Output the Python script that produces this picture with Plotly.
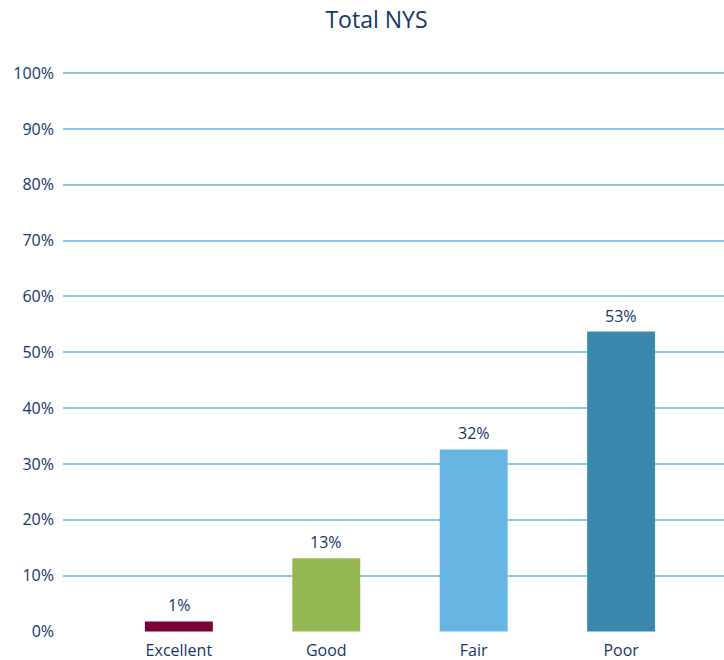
import plotly.graph_objects as go

categories = ["Excellent", "Good", "Fair", "Poor"]
values = [1.8, 13.1, 32.6, 53.7]
labels = ["1%", "13%", "32%", "53%"]
colors = ["#7A0038", "#94B954", "#67B5E3", "#3A88AD"]
tick_vals = [0, 10, 20, 30, 40, 50, 60, 70, 80, 90, 100]
tick_text = [f"{v}%" for v in tick_vals]

navy = "#15366A"
font_family = "Open Sans, Noto Sans, sans-serif"

fig = go.Figure(go.Bar(
    x=categories, y=values,
    marker=dict(color=colors, line=dict(width=0)),
    width=0.461, cliponaxis=False,
))

for c, v, t in zip(categories, values, labels):
    fig.add_annotation(x=c, y=v, text=t, showarrow=False, yanchor="bottom", yshift=3,
                       font=dict(color=navy, size=16, family=font_family))

fig.update_layout(
    width=724, height=660,
    margin=dict(l=63, r=0, t=72, b=28),
    paper_bgcolor="white", plot_bgcolor="white",
    title=dict(text="Total NYS", x=0.52, xanchor="center", y=0.97, yanchor="middle",
               font=dict(size=23, color=navy, family=font_family)),
    showlegend=False,
    font=dict(family=font_family, color=navy),
)
fig.update_xaxes(range=[-0.786, 3.698], showgrid=False, showline=False, zeroline=False,
                 ticks="", ticklabelstandoff=7, tickfont=dict(size=16, color=navy))
fig.update_yaxes(range=[-0.1, 100.2], tickvals=tick_vals, ticktext=tick_text,
                 showgrid=True, gridcolor="#8CC8EA", gridwidth=2, zeroline=False,
                 showline=False, ticks="", ticklabelstandoff=8,
                 tickfont=dict(size=16, color=navy))

fig.write_html("out.html", config={"displayModeBar": False},
               post_script="document.body.style.margin='0';")
